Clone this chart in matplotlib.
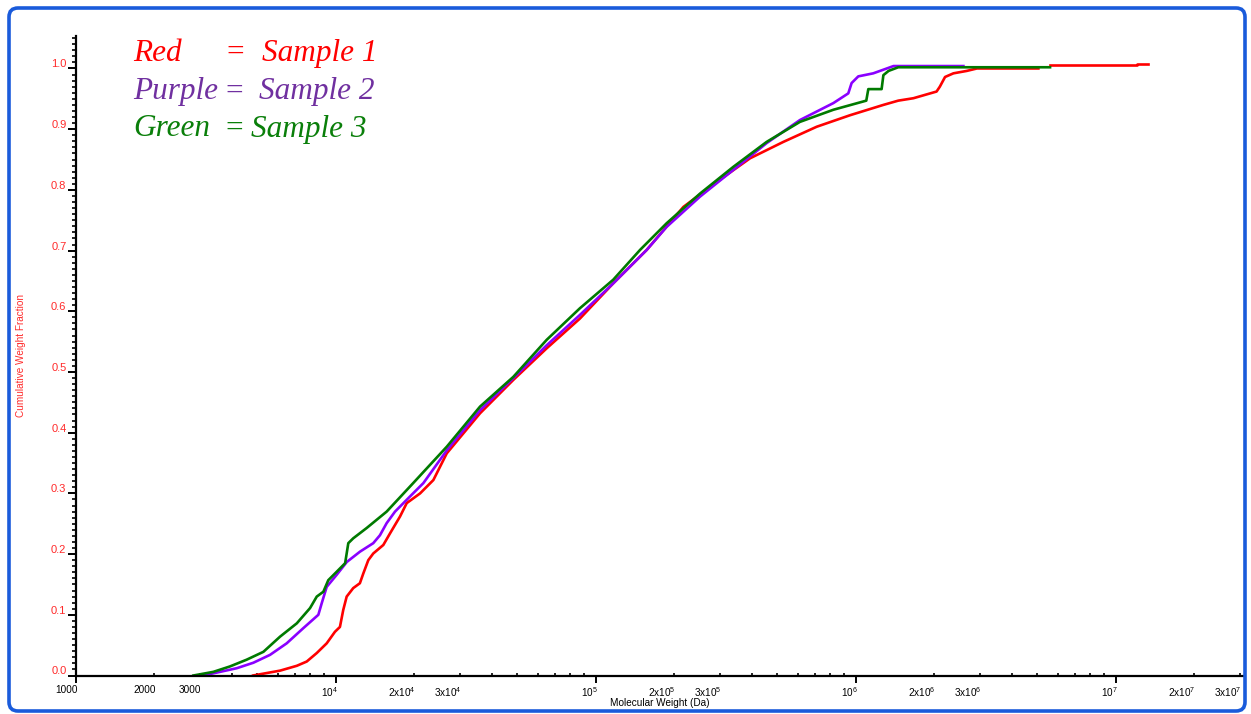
import matplotlib
matplotlib.use("Agg")
import matplotlib.pyplot as plt
import matplotlib.transforms as mtrans
from matplotlib.patches import FancyBboxPatch
from matplotlib.ticker import FixedLocator, FixedFormatter
import numpy as np

# ---------------- data ----------------
red_mw = [4820, 6120, 7100, 7750, 8470, 9250, 9950, 10400, 10710, 11040, 11700, 12410,
          12790, 13370, 13970, 15270, 16200, 17710, 18790, 21150, 23790, 26790, 35970,
          48310, 64900, 87100, 117000, 157300, 217800, 292500, 392900, 527500, 709000,
          952900, 1.28e6, 1.46e6, 1.67e6, 2.05e6, 2.11e6, 2.21e6, 2.38e6, 2.68e6, 2.93e6, 5.05e6]
red_cwf = [0.0, 0.008, 0.016, 0.023, 0.037, 0.053, 0.072, 0.080, 0.108, 0.130, 0.144, 0.152,
           0.168, 0.190, 0.201, 0.215, 0.234, 0.262, 0.284, 0.300, 0.322, 0.366, 0.432,
           0.487, 0.539, 0.588, 0.646, 0.701, 0.772, 0.813, 0.852, 0.879, 0.904,
           0.923, 0.940, 0.947, 0.951, 0.962, 0.970, 0.986, 0.992, 0.996, 1.0, 1.0]
red_tail_mw = [5.6e6, 1.21e7, 1.21e7, 1.33e7]
red_tail_cwf = [1.005, 1.005, 1.008, 1.008]

purple_mw = [3100, 3597, 4170, 4830, 5600, 6490, 7520, 8590, 8850, 9250, 10110, 11050, 12420,
             13970, 14820, 15730, 16940, 19350, 21780, 26800, 35970, 48300, 64900, 87100,
             117000, 157300, 187700, 252500, 339000, 455000, 611000, 822000, 938000, 966000,
             1.025e6, 1.17e6, 1.28e6, 1.40e6, 2.6e6]
purple_cwf = [0.0, 0.006, 0.012, 0.021, 0.034, 0.053, 0.078, 0.100, 0.119, 0.146, 0.166, 0.187,
              0.204, 0.218, 0.231, 0.251, 0.270, 0.295, 0.317, 0.371, 0.437, 0.490, 0.544,
              0.594, 0.646, 0.701, 0.739, 0.789, 0.833, 0.877, 0.915, 0.943, 0.959, 0.976,
              0.987, 0.992, 0.998, 1.004, 1.004]

green_mw = [2840, 3390, 3930, 4550, 5280, 6120, 7100, 7980, 8470, 8980, 9380, 10110, 10890,
            11200, 11700, 13180, 15730, 19900, 26800, 35970, 48300, 64900, 87100, 117000,
            148300, 187700, 252500, 339000, 455000, 611000, 822000, 1.10e6, 1.12e6, 1.26e6,
            1.28e6, 1.34e6, 1.46e6, 5.6e6]
green_cwf = [0.0, 0.006, 0.015, 0.026, 0.039, 0.064, 0.086, 0.111, 0.130, 0.138, 0.157, 0.171,
             0.185, 0.218, 0.226, 0.243, 0.270, 0.317, 0.377, 0.443, 0.492, 0.553, 0.605,
             0.652, 0.701, 0.745, 0.794, 0.838, 0.879, 0.912, 0.932, 0.947, 0.966, 0.966,
             0.989, 0.996, 1.002, 1.002]

x_major = [1e3, 1e4, 1e5, 1e6, 1e7]
x_major_labels = ["1000", r"$10^{4}$", r"$10^{5}$", r"$10^{6}$", r"$10^{7}$"]
x_minor_mult = [2, 3, 4, 5, 6, 7, 8, 9]
x_minor_labels = {1e3: ["2000", "3000"], 1e4: [r"2x$10^{4}$", r"3x$10^{4}$"],
                  1e5: [r"2x$10^{5}$", r"3x$10^{5}$"], 1e6: [r"2x$10^{6}$", r"3x$10^{6}$"],
                  1e7: [r"2x$10^{7}$", r"3x$10^{7}$"]}
y_major = [0.0, 0.1, 0.2, 0.3, 0.4, 0.5, 0.6, 0.7, 0.8, 0.9, 1.0]

legend_names = ["Red", "Purple", "Green"]
legend_samples = ["Sample 1", "Sample 2", "Sample 3"]

# ---------------- style ----------------
plt.rcParams['font.family'] = ['Liberation Sans', 'DejaVu Sans']
plt.rcParams['mathtext.fontset'] = 'custom'
plt.rcParams['mathtext.rm'] = 'Liberation Sans'
plt.rcParams['mathtext.it'] = 'Liberation Sans:italic'
plt.rcParams['mathtext.bf'] = 'Liberation Sans:bold'

W, H = 1251, 714
fig = plt.figure(figsize=(W / 100, H / 100), dpi=100)
fig.patch.set_facecolor('white')

ax_l, ax_r, ax_t, ax_b = 75.5, 1244, 36, 675.5
ax = fig.add_axes([ax_l / W, 1 - ax_b / H, (ax_r - ax_l) / W, (ax_b - ax_t) / H])

c_red = '#FF0000'
c_purple = '#8A00FF'
c_green = '#007A00'
lw = 1.9
ax.plot(red_mw, red_cwf, color=c_red, lw=lw)
ax.plot(red_tail_mw, red_tail_cwf, color=c_red, lw=lw)
ax.plot(purple_mw, purple_cwf, color=c_purple, lw=lw)
ax.plot(green_mw, green_cwf, color=c_green, lw=lw)

ax.set_xscale('log')
ax.set_xlim(1000, 3.12e7)
ax.set_ylim(0, 1.0535)

for s in ['top', 'right']:
    ax.spines[s].set_visible(False)
for s in ['left', 'bottom']:
    ax.spines[s].set_linewidth(1.6)
    ax.spines[s].set_color('black')

# x ticks
ax.xaxis.set_major_locator(FixedLocator(x_major))
ax.xaxis.set_major_formatter(FixedFormatter(x_major_labels))
minor_pos, minor_lab = [], []
for dec in x_major:
    for m in x_minor_mult:
        v = dec * m
        if v <= 3.12e7:
            minor_pos.append(v)
            minor_lab.append(x_minor_labels[dec][m - 2] if m in (2, 3) else "")
ax.xaxis.set_minor_locator(FixedLocator(minor_pos))
ax.xaxis.set_minor_formatter(FixedFormatter(minor_lab))
ax.tick_params(axis='x', which='major', direction='out', length=5, width=1.4,
               labelsize=7.2, pad=1.8, colors='black')
ax.tick_params(axis='x', which='minor', direction='in', length=2.5, width=1.2,
               labelsize=7.2, pad=1.8 + 5, colors='black')
for lab in ax.get_xticklabels(which='both'):
    lab.set_horizontalalignment('right')

# y ticks
ax.yaxis.set_major_locator(FixedLocator(y_major))
ax.yaxis.set_major_formatter(FixedFormatter([f"{v:.1f}" for v in y_major]))
ax.yaxis.set_minor_locator(FixedLocator(np.round(np.arange(0, 1.051, 0.01), 2)))
ax.tick_params(axis='y', which='major', direction='out', length=5.5, width=1.4,
               labelsize=8, pad=1, labelcolor='#FF2A2A', color='black')
ax.tick_params(axis='y', which='minor', direction='out', length=2.8, width=1.2, color='black')
offset = mtrans.ScaledTranslation(0, 0.05, fig.dpi_scale_trans)
for lab in ax.get_yticklabels():
    lab.set_transform(lab.get_transform() + offset)
xoff = mtrans.ScaledTranslation(0.02, 0, fig.dpi_scale_trans)
for lab in ax.get_xticklabels(which='both'):
    lab.set_transform(lab.get_transform() + xoff)

ax.set_xlabel("Molecular Weight (Da)", fontsize=7.2, labelpad=0)
ax.xaxis.set_label_coords(0.5, -(703.5 - ax_b) / (ax_b - ax_t), transform=ax.transAxes)
ax.xaxis.label.set_verticalalignment('center')
ax.set_ylabel("Cumulative Weight Fraction", fontsize=7.2, color='#FF2A2A')
ax.yaxis.set_label_coords(-(ax_l - 21) / (ax_r - ax_l), 0.5, transform=ax.transAxes)
ax.yaxis.label.set_verticalalignment('center')

# legend-like text
colors_txt = ['#FF0000', '#7030A0', '#0A7F0A']
baselines = [61, 99.4, 136.5]
name_x = 133.5
eq_x = [224, 223, 223]
samp_x = [262, 259, 251]
tfont = dict(family=['Liberation Serif', 'DejaVu Serif'], style='italic', size=22.5)
for i in range(3):
    yb = 1 - baselines[i] / H
    fig.text(name_x / W, yb, legend_names[i], color=colors_txt[i], va='baseline', ha='left', **tfont)
    fig.text(eq_x[i] / W, yb, "=", color=colors_txt[i], va='baseline', ha='left', **tfont)
    fig.text(samp_x[i] / W, yb, legend_samples[i], color=colors_txt[i], va='baseline', ha='left', **tfont)

# blue rounded frame
frame = FancyBboxPatch((9, 3), 1236, 703, boxstyle="round,pad=0,rounding_size=9",
                       transform=mtrans.IdentityTransform(), facecolor='none',
                       edgecolor='#1A5BDB', linewidth=2.6)
fig.add_artist(frame)

fig.savefig("out.png", dpi=100)
